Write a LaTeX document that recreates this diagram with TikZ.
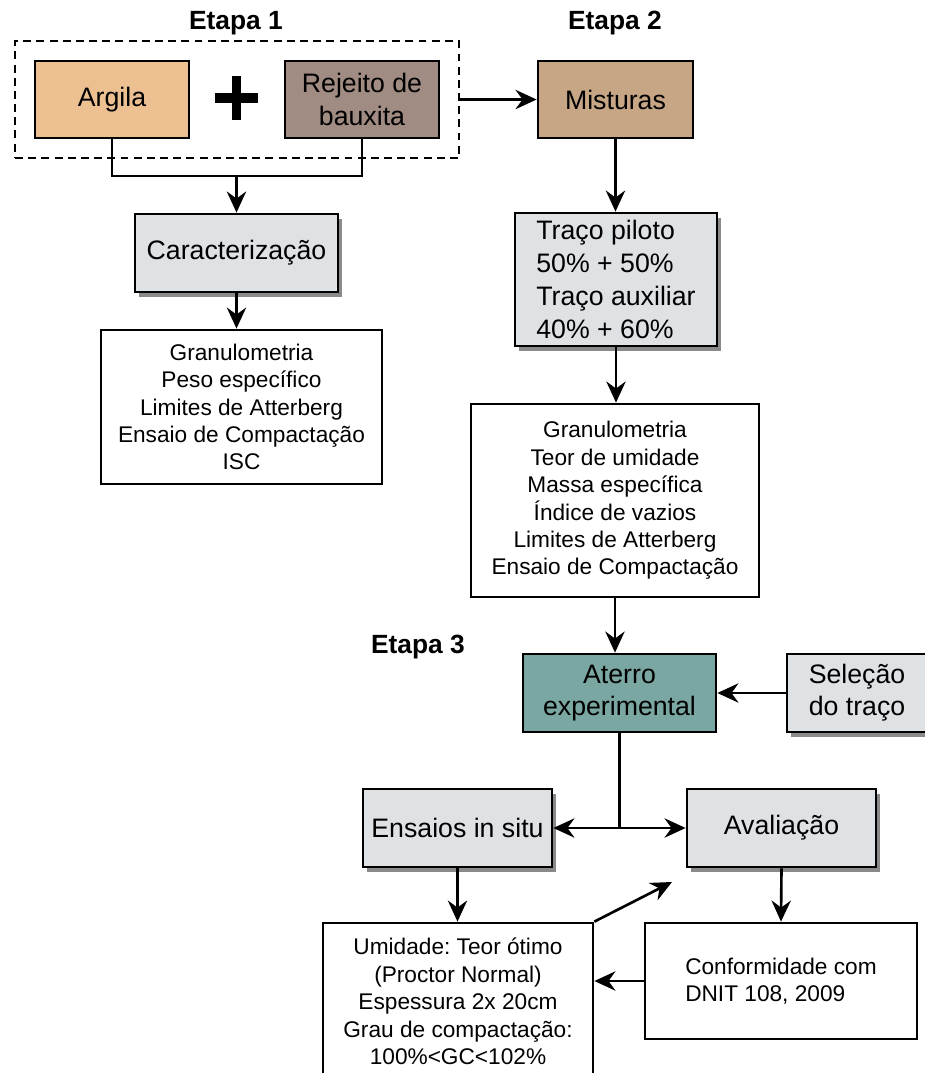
\documentclass[tikz,border=0pt]{standalone}
\usepackage{fontspec}
\setmainfont{Liberation Sans}
\frenchspacing
\usetikzlibrary{arrows.meta, shadows, fit, positioning}

\definecolor{argilafill}{RGB}{236,192,145}
\definecolor{rejeitofill}{RGB}{160,140,130}
\definecolor{misturafill}{RGB}{198,166,133}
\definecolor{grayfill}{RGB}{223,226,229}
\definecolor{aterrofill}{RGB}{122,167,161}

\begin{document}
\begin{tikzpicture}[
    x = 0.02cm, y = -0.02cm,
    stagebox/.style = {
      draw,
      rectangle,
      line width = 1.6pt,
      align = center,
      inner sep = 2pt,
      font = \fontsize{15.2}{18.3}\selectfont,
    },
    shadowbox/.style = {
      stagebox,
      fill = grayfill,
      drop shadow = {shadow xshift = 2.5pt, shadow yshift = -3pt,
        fill = black!70, opacity = 0.65},
    },
    listbox/.style = {
      draw,
      rectangle,
      line width = 1.6pt,
      align = center,
      font = \fontsize{12.9}{15.6}\selectfont,
    },
    stagetitle/.style = {font = \fontsize{15}{18}\selectfont\bfseries},
    flow/.style = {-{Stealth[length = 12pt, width = 11pt, inset = 4pt]},
      line width = 1.5pt},
    link/.style = {line width = 1.5pt},
  ]
  \useasboundingbox (0,0) rectangle (925,1073);

  % Etapa 1
  \node [stagetitle] (title1) at (236,23) {Etapa 1};
  \node [stagebox, fill = argilafill, minimum width = 3.08cm,
    minimum height = 1.54cm] (argila) at (112,99.5) {Argila};
  \node [stagebox, fill = rejeitofill, minimum width = 3.08cm,
    minimum height = 1.54cm] (rejeito) at (362,99.5) {Rejeito de\\bauxita};
  \draw [line width = 5.6pt] (215,98) -- (258,98) (236.5,76) -- (236.5,120);
  \node [draw, dash pattern = on 4.5pt off 3pt, line width = 1.3pt,
    inner sep = 0.37cm, fit = (argila) (rejeito)] (etapa1) {};

  \node [shadowbox, minimum width = 4.06cm, minimum height = 1.56cm]
    (carac) at (236.5,253) {Caracterização};
  \node [listbox, minimum width = 5.62cm, minimum height = 3.08cm]
    (lista1) at (241.5,407) {Granulometria\\Peso específico\\
    Limites de Atterberg\\Ensaio de Compactação\\ISC};

  % Etapa 2
  \node [stagetitle] (title2) at (615,23) {Etapa 2};
  \node [stagebox, fill = misturafill, minimum width = 3.1cm,
    minimum height = 1.54cm] (misturas) at (615.5,99.5) {Misturas};
  \node [shadowbox, align = left, minimum width = 4.04cm,
    minimum height = 2.66cm, font = \fontsize{15.2}{18.8}\selectfont]
    (traco) at (616,279.5) {Traço piloto\\50\% + 50\%\\
    Traço auxiliar\\40\% + 60\%};
  \node [listbox, minimum width = 5.76cm, minimum height = 3.86cm]
    (lista2) at (615,500.5) {Granulometria\\Teor de umidade\\
    Massa específica\\Índice de vazios\\Limites de Atterberg\\
    Ensaio de Compactação};

  % Etapa 3
  \node [stagetitle] (title3) at (418,647) {Etapa 3};
  \node [stagebox, fill = aterrofill, minimum width = 3.86cm,
    minimum height = 1.56cm] (aterro) at (619.5,693) {Aterro\\experimental};
  \node [shadowbox, minimum width = 2.8cm, minimum height = 1.56cm]
    (selecao) at (857,693) {Seleção\\do traço};
  \node [shadowbox, minimum width = 3.78cm, minimum height = 1.56cm]
    (ensaios) at (457.5,828) {Ensaios in situ};
  \node [shadowbox, minimum width = 3.78cm, minimum height = 1.56cm]
    (avaliacao) at (781.5,828) {Avaliação};
  \node [listbox, minimum width = 5.4cm, minimum height = 3.14cm]
    (lista3) at (458,1001.5) {Umidade: Teor ótimo\\(Proctor Normal)\\
    Espessura 2x 20cm\\Grau de compactação:\\100\%<GC<102\%};
  \node [listbox, align = left, minimum width = 5.44cm,
    minimum height = 2.32cm] (conform) at (781,981)
    {Conformidade com\\DNIT 108, 2009};

  % ligacoes
  \coordinate (join) at (236.5,176);
  \draw [link] (argila.south) |- (join) -| (rejeito.south);
  \draw [flow] (join) -- (carac.north);
  \draw [flow] (carac.south) -- (carac.south |- lista1.north);
  \draw [flow] (etapa1.east) -- (misturas.west);
  \draw [flow] (misturas.south) -- (misturas.south |- traco.north);
  \draw [flow] (traco.south) -- (traco.south |- lista2.north);
  \draw [flow] (lista2.south) -- (lista2.south |- aterro.north);
  \draw [flow] (selecao.west) -- (aterro.east);

  \coordinate (fork) at (aterro.south |- ensaios.east);
  \draw [link] (aterro.south) -- (fork);
  \draw [flow] (fork) -- (ensaios.east);
  \draw [flow] (fork) -- (avaliacao.west);
  \draw [flow] (ensaios.south) -- (ensaios.south |- lista3.north);
  \draw [flow] (avaliacao.south) -- (conform.north);
  \coordinate (retorno) at (672,882);
  \draw [flow] (lista3.north east) -- (retorno);
  \draw [flow] (conform.west) -- (conform.west -| lista3.east);
\end{tikzpicture}
\end{document}
